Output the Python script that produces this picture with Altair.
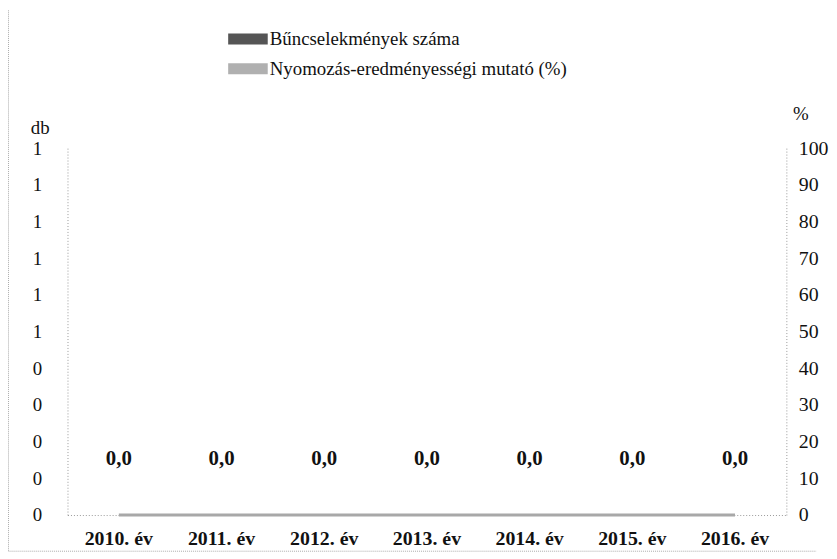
import altair as alt
import pandas as pd

years = ["2010. év", "2011. év", "2012. év", "2013. év", "2014. év", "2015. év", "2016. év"]
crimes = [0, 0, 0, 0, 0, 0, 0]
rates = [0, 0, 0, 0, 0, 0, 0]
series = ["Bűncselekmények száma", "Nyomozás-eredményességi mutató (%)"]
left_ticks = [0, 0.1, 0.2, 0.3, 0.4, 0.5, 0.6, 0.7, 0.8, 0.9, 1.0]
right_ticks = [0, 10, 20, 30, 40, 50, 60, 70, 80, 90, 100]

df = pd.DataFrame({"year": years, "crimes": crimes, "rate": rates, "series": series[0]})

FONT = "Liberation Serif, DejaVu Serif, serif"
W, H = 725, 370

left_axis = alt.Axis(values=left_ticks, labelExpr="round(datum.value)",
                     labelOverlap=False,
                     labelFont=FONT, labelFontSize=19, labelColor="#111",
                     labelPadding=26, ticks=False, grid=False,
                     domainColor="#999", domainDash=[1, 2],
                     title="db", titleFont=FONT, titleFontSize=19,
                     titleFontWeight="normal", titleColor="#111", titleAngle=0,
                     titleX=-28, titleY=-21, titleAlign="center", titleBaseline="middle")
left_scale = alt.Scale(domain=[0, 1], nice=False)

base = alt.Chart(df)
xenc = alt.X("year:N", sort=years, title=None,
             scale=alt.Scale(paddingInner=0.35, paddingOuter=0.175),
             axis=alt.Axis(labelFont=FONT, labelFontSize=20, labelFontWeight="bold",
                           labelColor="#111", labelAngle=0, labelPadding=14, ticks=False,
                           domainColor="#999", domainDash=[1, 2], domainWidth=1))

bars = base.mark_bar().encode(
    x=xenc,
    y=alt.Y("crimes:Q", scale=left_scale, axis=left_axis),
    color=alt.Color("series:N", scale=alt.Scale(domain=series, range=["#555555", "#b0b0b0"]),
                    legend=alt.Legend(title=None, orient="none", legendX=167, legendY=-125,
                                      direction="vertical", labelFont=FONT, labelFontSize=19,
                                      labelColor="#111", rowPadding=5, labelOffset=7,
                                      labelLimit=0,
                                      symbolType="M-1.33,-0.37L1.33,-0.37L1.33,0.37L-1.33,0.37Z",
                                      symbolSize=900, symbolStrokeWidth=0)),
)

labels = base.transform_calculate(
    lab="replace(format(datum.crimes, '.1f'), '.', ',')"
).mark_text(font=FONT, fontSize=21, fontWeight="bold", color="#111", dy=-56).encode(
    x=alt.X("year:N", sort=years),
    y=alt.Y("crimes:Q", scale=left_scale, axis=left_axis),
    text="lab:N",
)

line = base.mark_line(color="#a8a8a8", strokeWidth=3).encode(
    x=alt.X("year:N", sort=years),
    y=alt.Y("rate:Q", scale=alt.Scale(domain=[0, 100], nice=False),
            axis=alt.Axis(orient="right", values=right_ticks, labelFont=FONT,
                          labelOverlap=False,
                          labelFontSize=20, labelColor="#111", labelPadding=12,
                          ticks=False, grid=False, domainColor="#999", domainDash=[1, 2],
                          title="%", titleFont=FONT, titleFontSize=19,
                          titleFontWeight="normal", titleColor="#111", titleAngle=0,
                          titleX=14, titleY=-35, titleAlign="center", titleBaseline="middle")),
)

border_left = alt.Chart(pd.DataFrame({"a": [0]})).mark_rule(
    color="#aaa", strokeDash=[1, 1], strokeWidth=1
).encode(x=alt.value(-59.5), y=alt.value(-139), y2=alt.value(406))
border_bottom = alt.Chart(pd.DataFrame({"a": [0]})).mark_rule(
    color="#aaa", strokeDash=[1, 1], strokeWidth=1
).encode(x=alt.value(-59.5), x2=alt.value(W + 30), y=alt.value(406.5))

chart = alt.layer(
    alt.layer(bars, labels),
    line,
    border_left,
    border_bottom,
).resolve_scale(y="independent").properties(
    width=W, height=H,
    background="white",
    autosize=alt.AutoSizeParams(type="none"),
    padding={"left": 60, "top": 139, "right": 43, "bottom": 42},
).configure_view(stroke=None)

chart.save("out.html", embed_options={"renderer": "svg", "actions": False})
